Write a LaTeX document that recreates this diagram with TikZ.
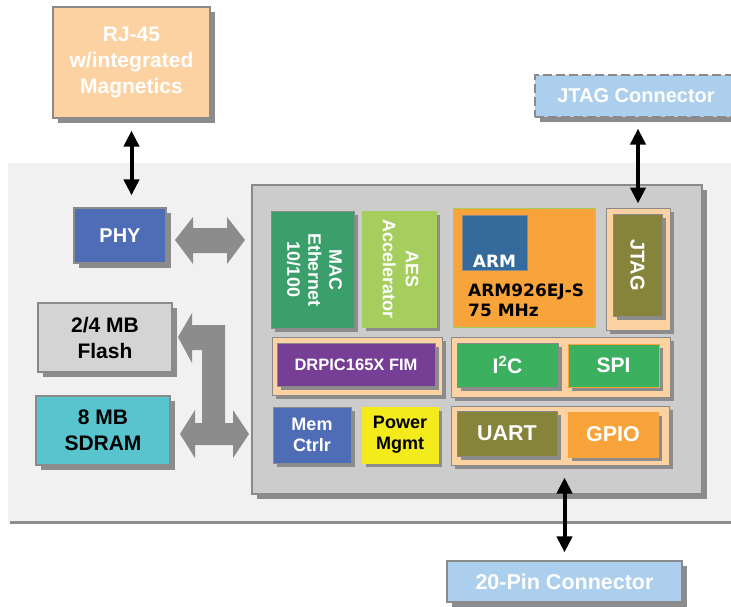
\documentclass[tikz,border=0pt]{standalone}
\usepackage{fontspec}
\setmainfont{Liberation Sans}
\newfontfamily\armfont{DejaVu Sans}
\usetikzlibrary{arrows.meta}
\usetikzlibrary{shadows}

\definecolor{peach}{HTML}{FCD2A2}
\definecolor{skyblue}{HTML}{ABCFED}
\definecolor{panelgray}{HTML}{F1F1F1}
\definecolor{chipgray}{HTML}{CCCCCC}
\definecolor{edgegray}{HTML}{8A8A8A}
\definecolor{shadegray}{HTML}{8C8C8C}
\definecolor{phyblue}{HTML}{4F6CB6}
\definecolor{flashgray}{HTML}{D4D4D4}
\definecolor{sdramcyan}{HTML}{58C4CD}
\definecolor{macgreen}{HTML}{3A9F6A}
\definecolor{aesgreen}{HTML}{A6CE5E}
\definecolor{armorange}{HTML}{F9A43A}
\definecolor{armblue}{HTML}{356A9C}
\definecolor{olive}{HTML}{86833A}
\definecolor{fimpurple}{HTML}{763E95}
\definecolor{iogreen}{HTML}{3BB160}
\definecolor{pwryellow}{HTML}{F4EB1C}

\newcommand{\fsz}[2]{\fontsize{#1}{#2}\selectfont\bfseries}

\begin{document}
\begin{tikzpicture}[x=1pt,y=-1pt,
  blk/.style={draw=edgegray,line width=1.2pt,inner sep=0pt,align=center,
    drop shadow={shadow xshift=5pt,shadow yshift=-5pt,fill=shadegray,opacity=1}},
  sub/.style={draw=edgegray,line width=1pt,inner sep=0pt,align=center,
    drop shadow={shadow xshift=4pt,shadow yshift=-4pt,fill=shadegray,opacity=1}},
  biarrow/.style={{Triangle[width=15pt,length=16pt]}-{Triangle[width=15pt,length=16pt]},line width=4pt}]

\useasboundingbox (0,0) rectangle (731,606);
\clip (0,0) rectangle (731,606);

\fill[panelgray,drop shadow={shadow xshift=2pt,shadow yshift=-3pt,fill=shadegray,opacity=1}] (8,163) rectangle (760,521);

\node[blk,fill=peach,text=white,minimum width=157,minimum height=111,font=\fsz{21}{26}] (rj) at (131.5,62.5) {RJ-45\\w/integrated\\Magnetics};
\node[blk,dashed,dash pattern=on 9pt off 4pt,fill=skyblue,text=white,minimum width=202,minimum height=42,font=\fsz{20}{24}] (jtagc) at (636,96) {JTAG Connector};
\node[blk,fill=skyblue,text=white,minimum width=235,minimum height=41,font=\fsz{21.5}{24}] (pin) at (564.5,581.5) {20-Pin Connector};

\node[blk,fill=chipgray,minimum width=450,minimum height=309] (chip) at (477,339.5) {};

\node[blk,fill=phyblue,text=white,minimum width=92,minimum height=55,font=\fsz{20}{24}] (phy) at (120,235.5) {PHY};
\node[blk,fill=flashgray,minimum width=134,minimum height=69,font=\fsz{21}{26}] (flash) at (105,337.5) {2/4 MB\\Flash};
\node[blk,fill=sdramcyan,minimum width=134,minimum height=69,font=\fsz{21}{26}] (sdram) at (103,430.5) {8 MB\\SDRAM};

\node[sub,fill=macgreen,text=white,minimum width=83,minimum height=117,font=\fsz{18}{21}] (mac) at (312.5,269.5) {\rotatebox{-90}{\begin{tabular}{@{}c@{}}MAC\\Ethernet\\10/100\end{tabular}}};
\node[sub,draw=aesgreen,fill=aesgreen,text=white,minimum width=74,minimum height=116,font=\fsz{18}{23}] (aes) at (399,269) {\rotatebox{-90}{\begin{tabular}{@{}c@{}}AES\\Accelerator\end{tabular}}};

\node[draw=aesgreen,line width=1pt,fill=armorange,minimum width=142,minimum height=119] (core) at (524,267.5) {};
\node[draw=edgegray,line width=1pt,fill=armblue,minimum width=65,minimum height=55,
  label={[anchor=south,yshift=3pt,inner sep=0pt,text=white,font=\armfont\fsz{17}{20}]south:ARM}] (arm) at (494.5,242.5) {};
\node[anchor=west,align=left,inner sep=0pt,font=\armfont\fsz{17}{20}] (corename) at (468,300) {ARM926EJ-S\\75 MHz};

\node[sub,fill=peach,minimum width=64,minimum height=122] (jtagfr) at (638,269) {};
\node[sub,fill=olive,text=white,minimum width=49,minimum height=102,font=\fsz{20}{24}] (jtag) at (637.5,265) {\rotatebox{-90}{JTAG}};

\node[sub,fill=peach,minimum width=170,minimum height=58] (fimfr) at (357,366) {};
\node[sub,fill=fimpurple,text=white,minimum width=158,minimum height=43,font=\fsz{16.5}{20}] (fim) at (356,364.5) {DRPIC165X FIM};

\node[sub,fill=peach,minimum width=219,minimum height=60] (serfr) at (560.5,367) {};
\node[sub,fill=iogreen,text=white,minimum width=101,minimum height=44,font=\fsz{21}{24}] (i2c) at (507.5,365) {I\textsuperscript{2}C};
\node[sub,draw=armorange,fill=iogreen,text=white,minimum width=91,minimum height=43,font=\fsz{21}{24}] (spi) at (613.5,365.5) {SPI};

\node[sub,fill=peach,minimum width=218,minimum height=59] (iofr) at (560,435.5) {};
\node[sub,fill=olive,text=white,minimum width=100,minimum height=45,font=\fsz{21.5}{24}] (uart) at (507,433.5) {UART};
\node[sub,draw=armorange,fill=armorange,text=white,minimum width=90,minimum height=45,font=\fsz{21.5}{24}] (gpio) at (613,434.5) {GPIO};

\node[sub,fill=phyblue,text=white,minimum width=78,minimum height=56,font=\fsz{18}{21}] (mem) at (312,435) {Mem\\Ctrlr};
\node[sub,draw=pwryellow,fill=pwryellow,minimum width=76,minimum height=56,font=\fsz{18}{21}] (pwr) at (400,435) {Power\\Mgmt};

\fill[shadegray] (175,240) -- (193,217) -- (193,228) -- (227,228) -- (227,217) -- (245,240)
  -- (227,264) -- (227,253) -- (193,253) -- (193,264) -- cycle;
\fill[shadegray] (178,337) -- (192,313) -- (192,325) -- (225,325) -- (225,423) -- (233,423)
  -- (233,410) -- (249,434) -- (233,458) -- (233,445) -- (195,445) -- (195,458) -- (180,434)
  -- (195,410) -- (195,423) -- (202,423) -- (202,350) -- (192,350) -- (192,363) -- cycle;

\draw[biarrow,shorten <=12pt,shorten >=12pt] (rj.south) -- (rj.south |- phy.north);
\draw[biarrow,shorten <=11pt,shorten >=4pt] (jtagc.south -| jtagfr.north) -- (jtagfr.north);
\draw[biarrow,shorten <=12pt,shorten >=8pt] (iofr.south -| pin.north) -- (pin.north);

\end{tikzpicture}
\end{document}
